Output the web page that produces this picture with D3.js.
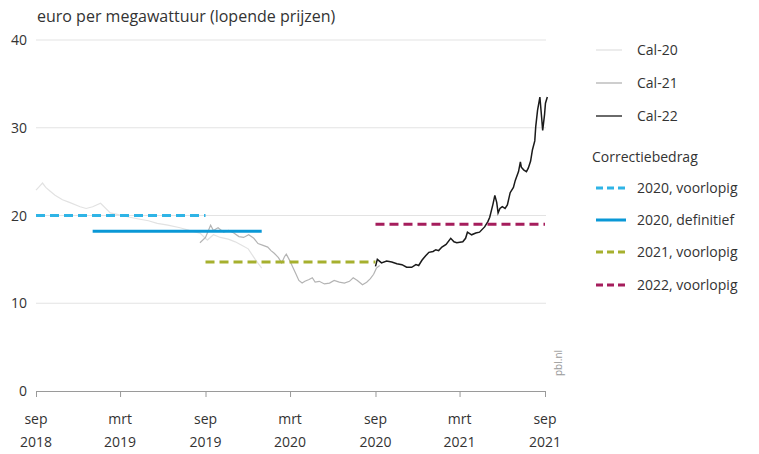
<!DOCTYPE html>
<html>
<head>
<meta charset="utf-8">
<script src="https://cdn.jsdelivr.net/npm/d3@7"></script>
<style>
  body { margin: 0; background: #fff; }
  svg { font-family: "Open Sans", "Noto Sans", sans-serif; }
</style>
</head>
<body>
<svg width="759" height="454"></svg>
<script>
var cal20 = [
  ["2018-09-01", 22.9], ["2018-09-08", 23.3], ["2018-09-15", 23.7], ["2018-09-22", 23.2], ["2018-10-01", 22.8],
  ["2018-10-12", 22.3], ["2018-10-28", 21.8], ["2018-11-12", 21.5], ["2018-12-05", 21.0], ["2018-12-18", 20.8],
  ["2019-01-01", 21.0], ["2019-01-18", 21.4], ["2019-02-08", 20.3], ["2019-02-25", 20.1], ["2019-03-22", 19.8],
  ["2019-04-10", 19.6], ["2019-05-01", 19.4], ["2019-05-20", 19.1], ["2019-06-12", 18.9], ["2019-07-08", 18.6],
  ["2019-07-28", 18.3], ["2019-08-20", 18.0], ["2019-09-05", 17.2], ["2019-09-18", 17.8], ["2019-10-03", 17.5],
  ["2019-10-20", 17.3], ["2019-11-04", 17.0], ["2019-11-18", 16.6], ["2019-12-02", 16.2], ["2019-12-17", 15.0],
  ["2019-12-31", 14.0]
]

var cal21 = [
  ["2019-08-20", 16.9], ["2019-09-01", 17.5], ["2019-09-12", 18.9], ["2019-09-18", 18.3], ["2019-09-28", 18.6],
  ["2019-10-10", 18.1], ["2019-10-21", 18.3], ["2019-11-01", 18.0], ["2019-11-12", 17.6], ["2019-11-22", 17.5],
  ["2019-12-03", 17.8], ["2019-12-14", 17.4], ["2019-12-23", 16.8], ["2020-01-03", 16.6], ["2020-01-13", 16.4],
  ["2020-01-20", 16.0], ["2020-01-27", 15.7], ["2020-02-05", 15.2], ["2020-02-12", 14.6], ["2020-02-18", 15.3],
  ["2020-02-22", 15.6], ["2020-03-01", 14.8], ["2020-03-07", 14.1], ["2020-03-14", 13.3], ["2020-03-20", 12.6],
  ["2020-03-27", 12.3], ["2020-04-02", 12.5], ["2020-04-11", 12.7], ["2020-04-18", 12.9], ["2020-04-24", 12.4],
  ["2020-05-03", 12.5], ["2020-05-14", 12.2], ["2020-05-25", 12.3], ["2020-06-04", 12.6], ["2020-06-15", 12.4],
  ["2020-06-26", 12.3], ["2020-07-07", 12.5], ["2020-07-15", 12.9], ["2020-07-24", 12.6], ["2020-08-04", 12.1],
  ["2020-08-13", 12.4], ["2020-08-21", 12.8], ["2020-08-28", 13.3], ["2020-09-03", 14.0], ["2020-09-10", 14.3]
]

var cal22 = [
  ["2020-09-01", 14.2], ["2020-09-05", 15.0], ["2020-09-14", 14.6], ["2020-09-25", 14.8], ["2020-10-06", 14.7],
  ["2020-10-17", 14.5], ["2020-10-28", 14.4], ["2020-11-07", 14.1], ["2020-11-18", 14.1], ["2020-11-27", 14.4],
  ["2020-12-03", 14.3], ["2020-12-10", 14.9], ["2020-12-18", 15.4], ["2020-12-25", 15.8], ["2021-01-03", 15.9],
  ["2021-01-09", 16.1], ["2021-01-15", 16.0], ["2021-01-22", 16.4], ["2021-01-31", 16.7], ["2021-02-10", 17.4],
  ["2021-02-17", 17.0], ["2021-02-23", 16.9], ["2021-03-08", 17.0], ["2021-03-14", 17.4], ["2021-03-18", 18.1],
  ["2021-03-27", 17.8], ["2021-04-05", 18.0], ["2021-04-13", 18.1], ["2021-04-24", 18.7], ["2021-05-01", 19.3],
  ["2021-05-05", 19.8], ["2021-05-12", 21.3], ["2021-05-16", 22.3], ["2021-05-20", 21.5], ["2021-05-23", 20.3],
  ["2021-05-27", 20.8], ["2021-06-01", 21.0], ["2021-06-07", 20.8], ["2021-06-12", 21.2], ["2021-06-18", 22.6],
  ["2021-06-25", 23.2], ["2021-06-29", 24.0], ["2021-07-06", 25.0], ["2021-07-10", 26.1], ["2021-07-12", 25.5],
  ["2021-07-17", 25.2], ["2021-07-23", 25.0], ["2021-07-27", 25.4], ["2021-08-01", 26.2], ["2021-08-05", 27.5],
  ["2021-08-10", 28.5], ["2021-08-12", 30.1], ["2021-08-16", 32.0], ["2021-08-21", 33.5], ["2021-08-25", 31.0],
  ["2021-08-27", 29.7], ["2021-08-31", 31.5], ["2021-09-02", 32.8], ["2021-09-06", 33.5]
]

var seriesNames = ["Cal-20", "Cal-21", "Cal-22"]

var corrLabels = ["2020, voorlopig", "2020, definitief", "2021, voorlopig", "2022, voorlopig"]
var corrFrom = ["2018-09-01", "2019-01-01", "2019-09-01", "2020-09-01"]
var corrTo = ["2019-09-01", "2019-12-31", "2020-09-01", "2021-09-01"]
var corrValues = [20.0, 18.2, 14.7, 19.0]

var yTicks = [0, 10, 20, 30, 40]
var xTickDates = ["2018-09-01", "2019-03-01", "2019-09-01", "2020-03-01", "2020-09-01", "2021-03-01", "2021-09-01"]
var xTickMonths = ["sep", "mrt", "sep", "mrt", "sep", "mrt", "sep"]
var xTickYears = ["2018", "2019", "2019", "2020", "2020", "2021", "2021"]

var parse = d3.timeParse("%Y-%m-%d")
var seriesColors = ["#e2e2e2", "#b4b4b4", "#1a1a1a"]
var corrColors = ["#2fb4e6", "#0a98d6", "#a6b02e", "#a51d5c"]
var corrDash = ["9,5", null, "9,5", "9,5"]

var svg = d3.select("svg")
var x = d3.scaleTime().domain([parse("2018-09-01"), parse("2021-09-01")]).range([36, 545])
var y = d3.scaleLinear().domain([0, 40]).range([391, 40])

var textCol = "#333"

svg.append("text").attr("x", 37).attr("y", 22)
  .style("font-size", "16px").style("fill", textCol)
  .text("euro per megawattuur (lopende prijzen)")

// gridlines + y labels
svg.append("g").selectAll("line").data(yTicks.filter(d => d > 0)).enter()
  .append("line")
  .attr("x1", 36).attr("x2", 546)
  .attr("y1", d => y(d)).attr("y2", d => y(d))
  .style("stroke", "#e3e3e3").style("stroke-width", 1)

svg.append("g").selectAll("text").data(yTicks).enter()
  .append("text")
  .attr("x", 27).attr("y", d => y(d) + 5)
  .attr("text-anchor", "end")
  .style("font-size", "14px").style("fill", textCol)
  .text(d => d)

// x axis
var xAxis = d3.axisBottom(x).tickValues(xTickDates.map(parse)).tickSize(6).tickFormat("")
var xG = svg.append("g").attr("transform", `translate(0,${y(0)})`).call(xAxis)
xG.select(".domain").style("stroke", "#9a9a9a")
xG.selectAll(".tick line").style("stroke", "#9a9a9a")

var xLab = svg.append("g").selectAll("text").data(xTickDates).enter()
  .append("text")
  .attr("text-anchor", "middle")
  .style("font-size", "14px").style("fill", textCol)
xLab.append("tspan").attr("x", d => x(parse(d))).attr("y", 424).text((d, i) => xTickMonths[i])
xLab.append("tspan").attr("x", d => x(parse(d))).attr("y", 447).text((d, i) => xTickYears[i])

// price lines
var lineGen = d3.line().x(d => x(parse(d[0]))).y(d => y(d[1]))

svg.append("g").selectAll("path").data([cal20, cal21, cal22]).enter()
  .append("path")
  .attr("d", d => lineGen(d))
  .style("fill", "none")
  .style("stroke", (d, i) => seriesColors[i])
  .style("stroke-width", (d, i) => i == 2 ? 1.5 : 1.2)

// correction amounts
svg.append("g").selectAll("line").data(corrValues).enter()
  .append("line")
  .attr("x1", (d, i) => x(parse(corrFrom[i])))
  .attr("x2", (d, i) => x(parse(corrTo[i])))
  .attr("y1", d => y(d)).attr("y2", d => y(d))
  .style("stroke", (d, i) => corrColors[i])
  .style("stroke-width", 3)
  .style("stroke-dasharray", (d, i) => corrDash[i])

// legend
var legend = svg.append("g")
var legRowsY = [50, 83, 116]
seriesNames.forEach((name, i) => {
  legend.append("line").attr("x1", 596).attr("x2", 622).attr("y1", legRowsY[i]).attr("y2", legRowsY[i])
    .style("stroke", seriesColors[i]).style("stroke-width", 1.3)
  legend.append("text").attr("x", 637).attr("y", legRowsY[i] + 5)
    .style("font-size", "14px").style("fill", textCol).text(name)
})

legend.append("text").attr("x", 592).attr("y", 162)
  .style("font-size", "14px").style("fill", textCol).text("Correctiebedrag")

var corrRowsY = [188, 220, 252, 285]
corrLabels.forEach((name, i) => {
  legend.append("line").attr("x1", 596).attr("x2", 626).attr("y1", corrRowsY[i]).attr("y2", corrRowsY[i])
    .style("stroke", corrColors[i]).style("stroke-width", 3)
    .style("stroke-dasharray", corrDash[i] ? "7,4" : null)
  legend.append("text").attr("x", 637).attr("y", corrRowsY[i] + 5)
    .style("font-size", "14px").style("fill", textCol).text(name)
})

svg.append("text")
  .attr("transform", "translate(562,376) rotate(-90)")
  .style("font-size", "10px").style("fill", "#999")
  .text("pbl.nl")
</script>
</body>
</html>
